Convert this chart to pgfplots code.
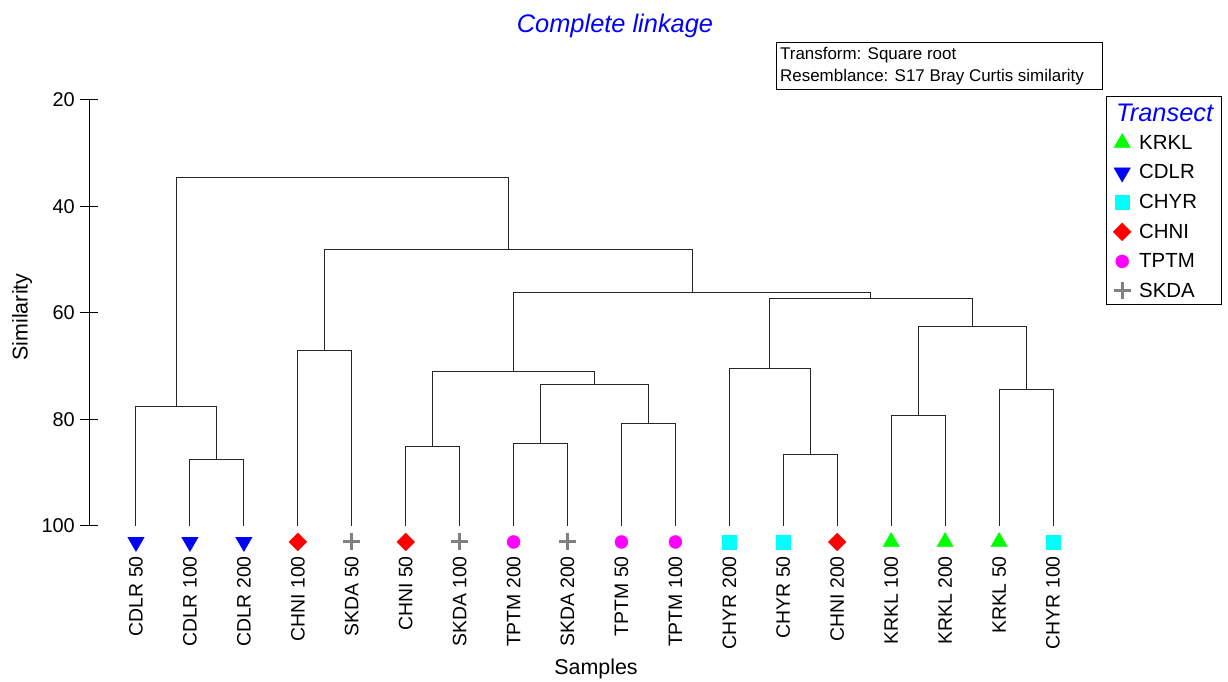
\documentclass[border=0pt]{standalone}
\usepackage{pgfplots}
\pgfplotsset{compat=1.18}
\usepackage{fontspec}
\setmainfont{Liberation Sans}

\definecolor{krkl}{RGB}{0,255,0}
\definecolor{cdlr}{RGB}{0,0,255}
\definecolor{chyr}{RGB}{0,255,255}
\definecolor{chni}{RGB}{255,0,0}
\definecolor{tptm}{RGB}{255,0,255}
\definecolor{skda}{RGB}{128,128,128}

\begin{document}
\begin{tikzpicture}[x=1bp,y=1bp]
\useasboundingbox (0,0) rectangle (1228,682);
\begin{axis}[
  at={(89bp,156bp)}, anchor=south west,
  scale only axis, width=1011bp, height=426bp,
  xmin=-0.871, xmax=17.871, ymin=20, ymax=100,
  y dir=reverse, clip=false,
  axis y line*=left, axis x line*=bottom,
  x axis line style={draw=none},
  y axis line style={black, line width=1bp},
  xtick={0,...,17},
  xticklabels={CDLR 50,CDLR 100,CDLR 200,CHNI 100,SKDA 50,CHNI 50,SKDA 100,TPTM 200,SKDA 200,TPTM 50,TPTM 100,CHYR 200,CHYR 50,CHNI 200,KRKL 100,KRKL 200,KRKL 50,CHYR 100},
  xtick style={draw=none},
  xticklabel style={rotate=90, anchor=east, inner sep=0pt, font=\fontsize{19.5}{23}\selectfont},
  xticklabel shift=21bp,
  ytick={20,40,60,80,100},
  ytick style={black, line width=1bp},
  tick align=center, major tick length=18bp,
  yticklabel style={inner sep=0pt, font=\fontsize{20}{24}\selectfont},
  yticklabel shift=5bp,
  /pgf/number format/assume math mode=true,
  legend style={at={(axis description cs:1.0079,0.9343)}, anchor=north west, draw=none, fill=none,
    inner sep=0pt, font=\fontsize{20.5}{24}\selectfont, row sep=0pt, nodes={inner sep=2bp}},
  legend cell align=left,
  legend image code/.code={\path[draw=none, fill=none] (0bp,-14.8bp) rectangle (29bp,14.8bp); \draw[#1] plot coordinates {(14bp,0bp)};},
  dend/.style={black!85, line width=1bp, forget plot},
]
% merges: (x1,h1) (x1,h) (x2,h) (x2,h2)
\addplot[dend] coordinates {(1,100) (1,87.6) (2,87.6) (2,100)};
\addplot[dend] coordinates {(0,100) (0,77.6) (1.5,77.6) (1.5,87.6)};
\addplot[dend] coordinates {(3,100) (3,67.1) (4,67.1) (4,100)};
\addplot[dend] coordinates {(5,100) (5,85.0) (6,85.0) (6,100)};
\addplot[dend] coordinates {(7,100) (7,84.6) (8,84.6) (8,100)};
\addplot[dend] coordinates {(9,100) (9,80.7) (10,80.7) (10,100)};
\addplot[dend] coordinates {(7.5,84.6) (7.5,73.5) (9.5,73.5) (9.5,80.7)};
\addplot[dend] coordinates {(5.5,85.0) (5.5,70.9) (8.5,70.9) (8.5,73.5)};
\addplot[dend] coordinates {(12,100) (12,86.5) (13,86.5) (13,100)};
\addplot[dend] coordinates {(11,100) (11,70.5) (12.5,70.5) (12.5,86.5)};
\addplot[dend] coordinates {(14,100) (14,79.3) (15,79.3) (15,100)};
\addplot[dend] coordinates {(16,100) (16,74.3) (17,74.3) (17,100)};
\addplot[dend] coordinates {(14.5,79.3) (14.5,62.6) (16.5,62.6) (16.5,74.3)};
\addplot[dend] coordinates {(11.75,70.5) (11.75,57.2) (15.5,57.2) (15.5,62.6)};
\addplot[dend] coordinates {(7,70.9) (7,56.1) (13.625,56.1) (13.625,57.2)};
\addplot[dend] coordinates {(3.5,67.1) (3.5,48.0) (10.3125,48.0) (10.3125,56.1)};
\addplot[dend] coordinates {(0.75,77.6) (0.75,34.6) (6.90625,34.6) (6.90625,48.0)};

% sample symbols
\addplot[only marks, mark=triangle*, mark size=9.5bp, draw=krkl, fill=krkl] coordinates {(14,103) (15,103) (16,103)};
\addlegendentry{KRKL}
\addplot[only marks, mark=triangle*, mark size=9.5bp, mark options={rotate=180}, draw=cdlr, fill=cdlr] coordinates {(0,103) (1,103) (2,103)};
\addlegendentry{CDLR}
\addplot[only marks, mark=square*, mark size=7bp, draw=chyr, fill=chyr] coordinates {(11,103) (12,103) (17,103)};
\addlegendentry{CHYR}
\addplot[only marks, mark=square*, mark size=6.3bp, mark options={rotate=45}, draw=chni, fill=chni] coordinates {(3,103) (5,103) (13,103)};
\addlegendentry{CHNI}
\addplot[only marks, mark=*, mark size=6.5bp, draw=tptm, fill=tptm] coordinates {(7,103) (9,103) (10,103)};
\addlegendentry{TPTM}
\addplot[only marks, mark=+, mark size=8.5bp, mark options={line width=3bp}, draw=skda] coordinates {(4,103) (6,103) (8,103)};
\addlegendentry{SKDA}
\end{axis}

% title and axis labels
\node[anchor=base, text=blue, font=\fontsize{25.5}{30}\selectfont\itshape] at (615,649) {Complete linkage};
\node[anchor=base, font=\fontsize{21.5}{26}\selectfont] at (596,7) {Samples};
\node[rotate=90, font=\fontsize{21.5}{26}\selectfont] at (22,365) {Similarity};

% info box
\draw[line width=1bp] (776,639) rectangle (1102,592);
\node[anchor=base west, font=\fontsize{17}{20}\selectfont, inner sep=0pt] at (780,622) {Transform: Square root};
\node[anchor=base west, font=\fontsize{17}{20}\selectfont, inner sep=0pt] at (780,600) {Resemblance: S17 Bray Curtis similarity};

% legend frame and title
\draw[line width=1bp] (1106,585) rectangle (1221,377);
\node[anchor=base west, inner sep=0pt, text=blue, font=\fontsize{25.5}{30}\selectfont\itshape] at (1116,560) {Transect};
\end{tikzpicture}
\end{document}
